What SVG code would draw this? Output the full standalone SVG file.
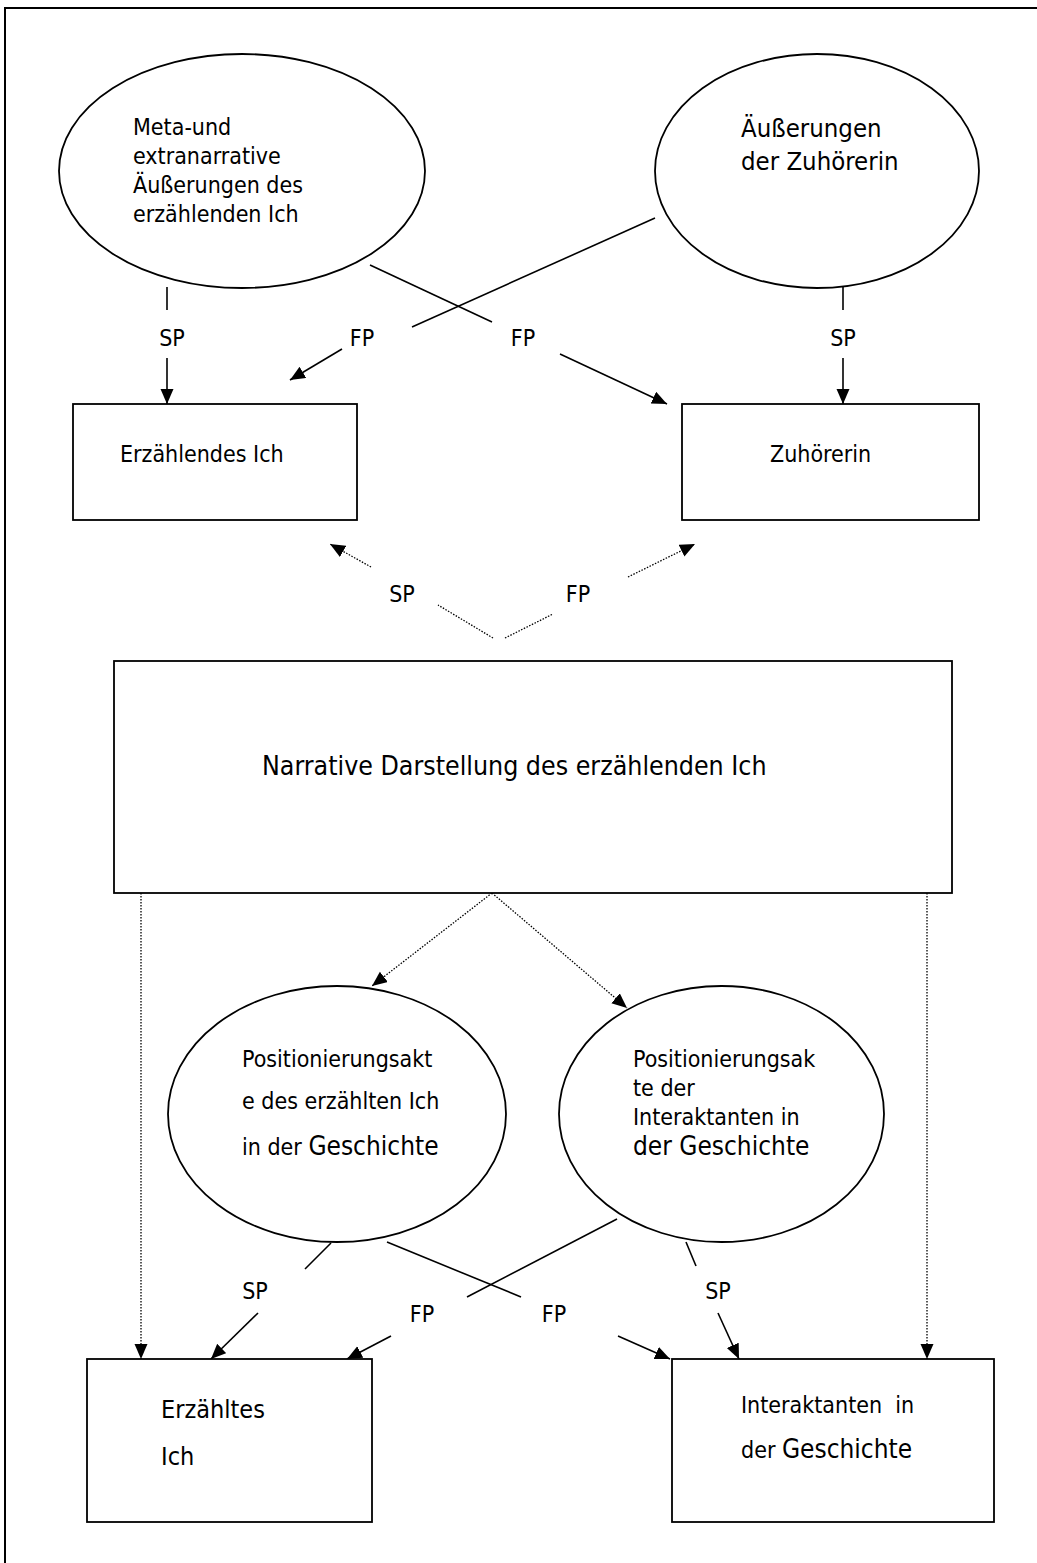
<svg xmlns="http://www.w3.org/2000/svg" width="1037" height="1563" viewBox="0 0 1037 1563">
<defs>
<style>
text{font-family:"DejaVu Sans Condensed","Liberation Sans",sans-serif;fill:#000;font-size:23px}
.shape{fill:#fff;stroke:#000;stroke-width:1.8}
.ln{fill:none;stroke:#000;stroke-width:1.6}
.dot{fill:none;stroke:#000;stroke-width:1.3;stroke-dasharray:1.5 1.5}
.lbl{text-anchor:middle}
.big{font-size:26px}
</style>
<marker id="ah" markerWidth="16" markerHeight="14" refX="15" refY="6.5" orient="auto" markerUnits="userSpaceOnUse"><path d="M0,0 L15,6.5 L0,13 z" fill="#000"/></marker>
</defs>
<rect width="1037" height="1563" fill="#fff"/>
<path d="M5,1563 V8 H1037" fill="none" stroke="#000" stroke-width="2"/>

<g id="connectors">
<line class="ln" x1="167" y1="287" x2="167" y2="310"/>
<line class="ln" x1="167" y1="358" x2="167" y2="404" marker-end="url(#ah)"/>
<line class="ln" x1="843" y1="287" x2="843" y2="310"/>
<line class="ln" x1="843" y1="358" x2="843" y2="404" marker-end="url(#ah)"/>
<line class="ln" x1="370" y1="265" x2="492" y2="322"/>
<line class="ln" x1="560" y1="354" x2="667" y2="404" marker-end="url(#ah)"/>
<line class="ln" x1="655" y1="218" x2="412" y2="327"/>
<line class="ln" x1="342" y1="349" x2="290" y2="380" marker-end="url(#ah)"/>
<line class="dot" x1="371" y1="567" x2="330" y2="544" marker-end="url(#ah)"/>
<line class="dot" x1="493" y1="638" x2="438" y2="605"/>
<line class="dot" x1="505" y1="638" x2="553" y2="614"/>
<line class="dot" x1="628" y1="577" x2="695" y2="544" marker-end="url(#ah)"/>
<line class="dot" x1="492" y1="893" x2="372" y2="986" marker-end="url(#ah)"/>
<line class="dot" x1="492" y1="893" x2="627" y2="1008" marker-end="url(#ah)"/>
<line class="dot" x1="141" y1="893" x2="141" y2="1359" marker-end="url(#ah)"/>
<line class="dot" x1="927" y1="893" x2="927" y2="1359" marker-end="url(#ah)"/>
<line class="ln" x1="331" y1="1243" x2="305" y2="1269"/>
<line class="ln" x1="258" y1="1313" x2="211" y2="1359" marker-end="url(#ah)"/>
<line class="ln" x1="387" y1="1242" x2="521" y2="1297"/>
<line class="ln" x1="618" y1="1336" x2="670" y2="1359" marker-end="url(#ah)"/>
<line class="ln" x1="617" y1="1219" x2="467" y2="1297"/>
<line class="ln" x1="391" y1="1336" x2="347" y2="1359" marker-end="url(#ah)"/>
<line class="ln" x1="686" y1="1242" x2="696" y2="1266"/>
<line class="ln" x1="718" y1="1313" x2="739" y2="1359" marker-end="url(#ah)"/>
<text class="lbl" x="172" y="346">SP</text>
<text class="lbl" x="362" y="346">FP</text>
<text class="lbl" x="523" y="346">FP</text>
<text class="lbl" x="843" y="346">SP</text>
<text class="lbl" x="402" y="602">SP</text>
<text class="lbl" x="578" y="602">FP</text>
<text class="lbl" x="255" y="1299">SP</text>
<text class="lbl" x="422" y="1322">FP</text>
<text class="lbl" x="554" y="1322">FP</text>
<text class="lbl" x="718" y="1299">SP</text>
</g>

<g id="meta-ellipse">
<ellipse class="shape" cx="242" cy="171" rx="183" ry="117"/>
<text x="133" y="135">Meta-und</text>
<text x="133" y="164">extranarrative</text>
<text x="133" y="193">Äußerungen des</text>
<text x="133" y="222">erzählenden Ich</text>
</g>

<g id="zuhoererin-ellipse">
<ellipse class="shape" cx="817" cy="171" rx="162" ry="117"/>
<text x="741" y="137" style="font-size:25.5px">Äußerungen</text>
<text x="741" y="170" style="font-size:25.5px">der Zuhörerin</text>
</g>

<g id="erzaehlendes-ich">
<rect class="shape" x="73" y="404" width="284" height="116"/>
<text x="120" y="462">Erzählendes Ich</text>
</g>

<g id="zuhoererin">
<rect class="shape" x="682" y="404" width="297" height="116"/>
<text x="770" y="462">Zuhörerin</text>
</g>

<g id="narrative">
<rect class="shape" x="114" y="661" width="838" height="232"/>
<text x="262" y="775" style="font-size:26.5px">Narrative Darstellung des erzählenden Ich</text>
</g>

<g id="pos-ich-ellipse">
<ellipse class="shape" cx="337" cy="1114" rx="169" ry="128"/>
<text x="242" y="1067">Positionierungsakt</text>
<text x="242" y="1109">e des erzählten Ich</text>
<text x="242" y="1155">in der <tspan class="big">Geschichte</tspan></text>
</g>

<g id="pos-interaktanten-ellipse">
<ellipse class="shape" cx="721.5" cy="1114" rx="162.5" ry="128"/>
<text x="633" y="1067">Positionierungsak</text>
<text x="633" y="1096">te der</text>
<text x="633" y="1125">Interaktanten in</text>
<text x="633" y="1155"><tspan class="big">der Geschichte</tspan></text>
</g>

<g id="erzaehltes-ich">
<rect class="shape" x="87" y="1359" width="285" height="163"/>
<text x="161" y="1418" style="font-size:25px">Erzähltes</text>
<text x="161" y="1465" style="font-size:25px">Ich</text>
</g>

<g id="interaktanten">
<rect class="shape" x="672" y="1359" width="322" height="163"/>
<text x="741" y="1413" xml:space="preserve">Interaktanten  in</text>
<text x="741" y="1458">der <tspan class="big">Geschichte</tspan></text>
</g>
</svg>
